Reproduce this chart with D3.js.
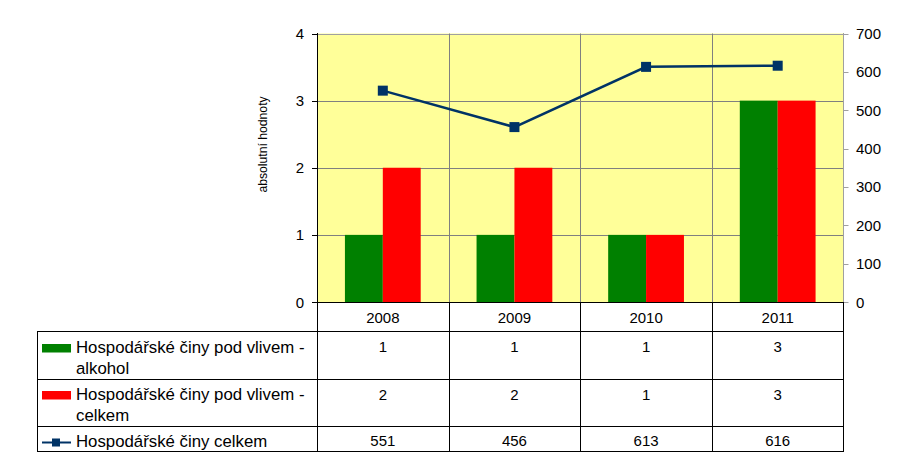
<!DOCTYPE html>
<html>
<head>
<meta charset="utf-8">
<script src="https://cdn.jsdelivr.net/npm/d3@7"></script>
<style>
  html, body { margin: 0; padding: 0; background: #ffffff; }
  svg { display: block; font-family: Arial, "Liberation Sans", sans-serif; }
</style>
</head>
<body>
<svg id="chart" width="902" height="469"></svg>
<script>
// ---- data ----
const years = ["2008", "2009", "2010", "2011"];
const alkohol = [1, 1, 1, 3];
const podVlivemCelkem = [2, 2, 1, 3];
const cinyCelkem = [551, 456, 613, 616];
const leftTicks = [0, 1, 2, 3, 4];
const rightTicks = [0, 100, 200, 300, 400, 500, 600, 700];
const seriesNames = [
  "Hospodářské činy pod vlivem - alkohol",
  "Hospodářské činy pod vlivem - celkem",
  "Hospodářské činy celkem"
];
const legendLines = [
  ["Hospodářské činy pod vlivem -", "alkohol"],
  ["Hospodářské činy pod vlivem -", "celkem"],
  ["Hospodářské činy celkem"]
];
const yAxisTitle = "absolutní hodnoty";

// ---- layout ----
const svg = d3.select("#chart");
const L = 317, R = 843.5, T = 33.5, B = 302;
const tableLeft = 37.5;
const rowEdges = [302, 331, 379, 426, 451];
const colors = { green: "#008000", red: "#FF0000", line: "#003366", plot: "#FFFF99", grid: "#808080" };

const x = d3.scaleBand().domain(years).range([L, R]).paddingInner(0).paddingOuter(0);
const xs = d3.scaleBand().domain([0, 1]).range([0, x.bandwidth()]).paddingInner(0).paddingOuter(0.737);
const yL = d3.scaleLinear().domain([0, 4]).range([B, T]);
const yR = d3.scaleLinear().domain([0, 700]).range([B, T]);

// plot background
svg.append("rect").attr("x", L).attr("y", T).attr("width", R - L).attr("height", B - T).attr("fill", colors.plot);

// horizontal gridlines
svg.append("g").selectAll("line").data(leftTicks.filter(d => d > 0)).join("line")
  .attr("x1", L).attr("x2", R)
  .attr("y1", d => Math.round(yL(d)) + 0.5).attr("y2", d => Math.round(yL(d)) + 0.5)
  .attr("stroke", d => d === 4 ? "#a0a0a0" : colors.grid).attr("stroke-width", 1);

// vertical gridlines in plot
svg.append("g").selectAll("line").data(years.slice(1)).join("line")
  .attr("x1", d => Math.round(x(d)) + 0.5).attr("x2", d => Math.round(x(d)) + 0.5)
  .attr("y1", T).attr("y2", B)
  .attr("stroke", colors.grid).attr("stroke-width", 1);

// bars
const barData = [];
years.forEach((yr, i) => {
  barData.push({ yr, s: 0, v: alkohol[i], c: colors.green });
  barData.push({ yr, s: 1, v: podVlivemCelkem[i], c: colors.red });
});
svg.append("g").selectAll("rect").data(barData).join("rect")
  .attr("x", d => x(d.yr) + xs(d.s))
  .attr("width", xs.bandwidth())
  .attr("y", d => yL(d.v))
  .attr("height", d => B - yL(d.v))
  .attr("fill", d => d.c);

// line series
const lineGen = d3.line().x((d, i) => x(years[i]) + x.bandwidth() / 2).y(d => yR(d));
svg.append("path").datum(cinyCelkem).attr("d", lineGen)
  .attr("fill", "none").attr("stroke", colors.line).attr("stroke-width", 2.5);
svg.append("g").selectAll("rect").data(cinyCelkem).join("rect")
  .attr("x", (d, i) => x(years[i]) + x.bandwidth() / 2 - 5)
  .attr("y", d => yR(d) - 5)
  .attr("width", 10).attr("height", 10)
  .attr("fill", colors.line);

// left axis
const gl = svg.append("g");
gl.append("line").attr("x1", L + 0.5).attr("x2", L + 0.5).attr("y1", T - 0.5).attr("y2", rowEdges[4])
  .attr("stroke", "#000").attr("stroke-width", 1);
gl.selectAll("line.tick").data(leftTicks).join("line").attr("class", "tick")
  .attr("x1", L - 5).attr("x2", L)
  .attr("y1", d => Math.round(yL(d)) + 0.5).attr("y2", d => Math.round(yL(d)) + 0.5)
  .attr("stroke", "#000");
gl.selectAll("text").data(leftTicks).join("text")
  .attr("x", L - 13).attr("y", d => yL(d) + 5.5)
  .attr("text-anchor", "end").attr("font-size", 15).attr("fill", "#000")
  .text(d => d);

// right axis
const gr = svg.append("g");
gr.append("line").attr("x1", R).attr("x2", R).attr("y1", T - 0.5).attr("y2", B)
  .attr("stroke", "#a0a0a0").attr("stroke-width", 1);
gr.selectAll("line.tick").data(rightTicks).join("line").attr("class", "tick")
  .attr("x1", R).attr("x2", R + 5)
  .attr("y1", d => Math.round(yR(d)) + 0.5).attr("y2", d => Math.round(yR(d)) + 0.5)
  .attr("stroke", "#a0a0a0");
gr.selectAll("text").data(rightTicks).join("text")
  .attr("x", 856).attr("y", d => yR(d) + 5.5)
  .attr("text-anchor", "start").attr("font-size", 15).attr("fill", "#000")
  .text(d => d);

// axis title
svg.append("text")
  .attr("transform", "translate(267,144.5) rotate(-90)")
  .attr("text-anchor", "middle").attr("font-size", 12.2).attr("fill", "#000")
  .text(yAxisTitle);

// ---- data table ----
const gt = svg.append("g").attr("stroke", "#000").attr("stroke-width", 1);
// bottom of plot
gt.append("line").attr("x1", L).attr("x2", R + 0.5).attr("y1", B + 0.5).attr("y2", B + 0.5);
// horizontal row lines
rowEdges.slice(1).forEach(yv => {
  gt.append("line").attr("x1", tableLeft).attr("x2", R + 0.5).attr("y1", yv + 0.5).attr("y2", yv + 0.5);
});
// left border of table body
gt.append("line").attr("x1", tableLeft).attr("x2", tableLeft).attr("y1", rowEdges[1]).attr("y2", rowEdges[4] + 1);
// column separators
years.slice(1).forEach(yr => {
  const xv = Math.round(x(yr)) + 0.5;
  gt.append("line").attr("x1", xv).attr("x2", xv).attr("y1", B).attr("y2", rowEdges[4] + 1);
});
// right border
gt.append("line").attr("x1", R).attr("x2", R).attr("y1", B).attr("y2", rowEdges[4] + 1);

// header years
svg.append("g").selectAll("text").data(years).join("text")
  .attr("x", d => x(d) + x.bandwidth() / 2).attr("y", 322.7)
  .attr("text-anchor", "middle").attr("font-size", 15).attr("fill", "#000")
  .text(d => d);

// values
const rowValues = [alkohol, podVlivemCelkem, cinyCelkem];
const valueBaselines = [352.3, 399.5, 445.8];
rowValues.forEach((vals, r) => {
  svg.append("g").selectAll("text").data(vals).join("text")
    .attr("x", (d, i) => x(years[i]) + x.bandwidth() / 2).attr("y", valueBaselines[r])
    .attr("text-anchor", "middle").attr("font-size", 15).attr("fill", "#000")
    .text(d => d);
});

// legend keys
svg.append("rect").attr("x", 42).attr("y", 344).attr("width", 29).attr("height", 8.5).attr("fill", colors.green);
svg.append("rect").attr("x", 42).attr("y", 391).attr("width", 29).attr("height", 8.5).attr("fill", colors.red);
svg.append("line").attr("x1", 42).attr("x2", 71).attr("y1", 442.5).attr("y2", 442.5)
  .attr("stroke", colors.line).attr("stroke-width", 2);
svg.append("rect").attr("x", 52).attr("y", 438.5).attr("width", 8).attr("height", 8).attr("fill", colors.line);

// legend labels
const legendBaselines = [[353.3, 373.5], [400, 420.5], [446.7]];
legendLines.forEach((lines, r) => {
  const t = svg.append("text").attr("font-size", 16.8).attr("fill", "#000").attr("aria-label", seriesNames[r]);
  lines.forEach((ln, k) => {
    t.append("tspan").attr("x", 76).attr("y", legendBaselines[r][k]).text(ln);
  });
});
</script>
</body>
</html>
